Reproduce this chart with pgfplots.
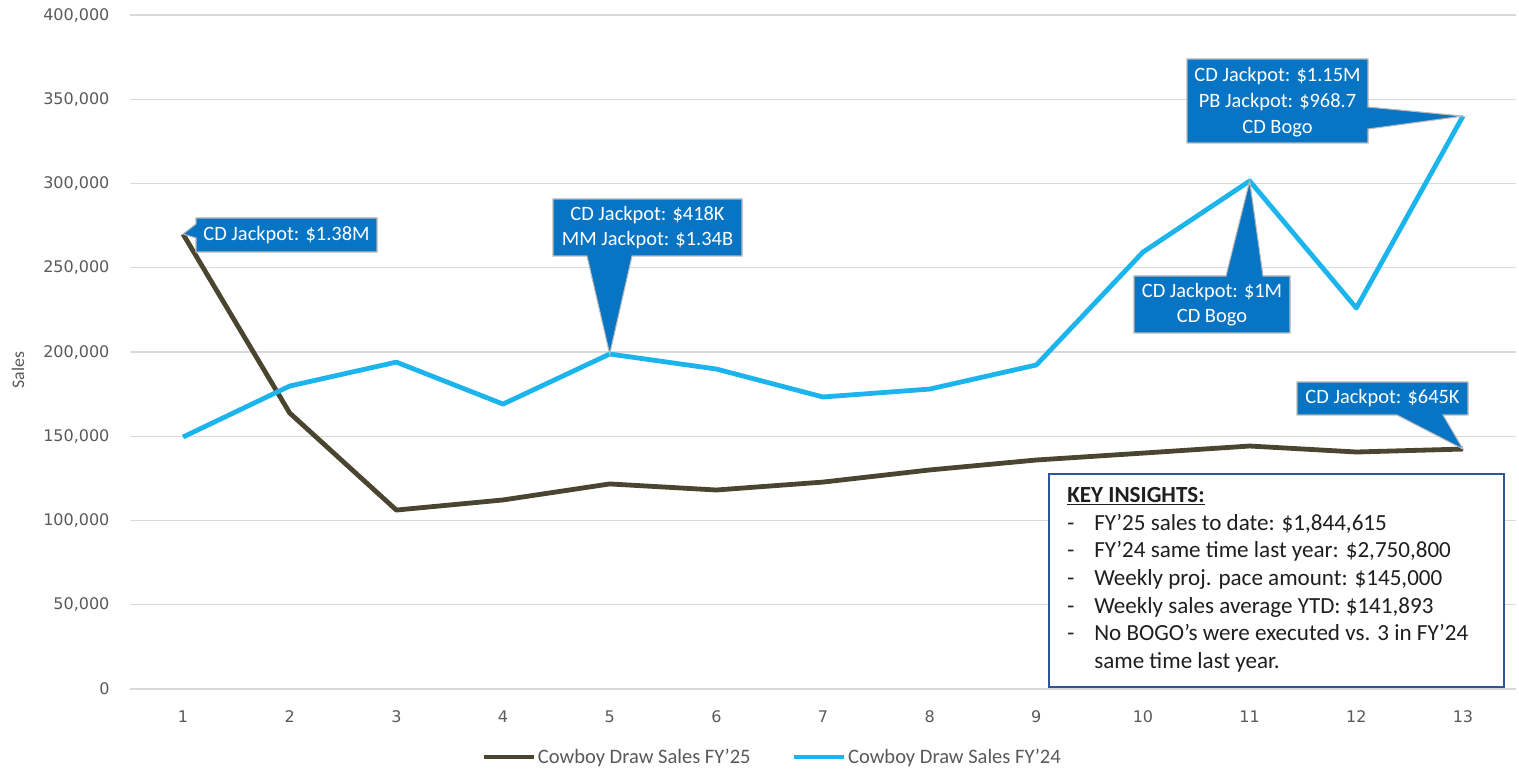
\documentclass[border=0pt]{standalone}
\usepackage{pgfplots}
\pgfplotsset{compat=1.18}
\usepackage{fontspec}
\setmainfont{Carlito}
\newfontfamily\tickfont{DejaVu Sans}

\definecolor{fyA}{HTML}{4A4530}
\definecolor{fyB}{HTML}{1CB4EC}
\definecolor{callout}{HTML}{0874C4}
\definecolor{gridgray}{HTML}{D9D9D9}
\definecolor{txtgray}{HTML}{595959}
\definecolor{boxblue}{HTML}{2F5597}

\tikzset{
  co/.style={fill=callout, draw=gray!55, line width=0.8pt, line join=miter},
  cotext/.style={text=white, align=center, inner sep=0pt,
    font=\fontsize{15.3}{18.5}\selectfont},
  ins/.style={anchor=base west, inner sep=0pt, text=black!88, font=\fontsize{17.3}{20}\selectfont},
}

\begin{document}
\begin{tikzpicture}
\path[use as bounding box] (-97.275pt,-59.25pt) rectangle (1041.975pt,516.75pt);
\begin{axis}[
    at={(0,0)}, anchor=south west,
    scale only axis,
    width=1039.95pt, height=505.5pt,
    xmin=0.5, xmax=13.5,
    ymin=0, ymax=400000,
    xtick={1,...,13},
    xticklabels={1,2,3,4,5,6,7,8,9,10,11,12,13},
    ytick={0,50000,...,400000},
    yticklabels={0,{50,000},{100,000},{150,000},{200,000},{250,000},{300,000},{350,000},{400,000}},
    axis line style={draw=none},
    major tick length=0pt,
    ymajorgrids,
    grid style={gridgray, line width=1.1pt},
    ticklabel style={font=\tickfont\fontsize{12}{13}\selectfont, text=txtgray, inner sep=0pt},
    xticklabel style={yshift=-16pt},
    yticklabel style={xshift=-15pt},
    legend style={at={(axis description cs:0.4632,-0.1009)}, anchor=center,
      draw=none, fill=none, font=\fontsize{15.4}{17}\selectfont, text=txtgray,
      nodes={inner sep=1.5pt},
      /tikz/every even column/.append style={column sep=29pt}},
    legend columns=2,
    legend cell align=left,
    legend image code/.code={\draw[#1, line width=3.6pt] (0,0) -- (37.5pt,0);},
    clip=false,
  ]
  \addplot[fyA, line width=3.6pt, line join=round] coordinates {
    (1,270000) (2,163800) (3,106200) (4,112200) (5,121700) (6,118100) (7,122800)
    (8,130000) (9,135900) (10,140000) (11,144200) (12,140650) (13,142400)};
  \addplot[fyB, line width=3.6pt, line join=round] coordinates {
    (1,149550) (2,179800) (3,194000) (4,169100) (5,198800) (6,189900) (7,173300)
    (8,178000) (9,192300) (10,259300) (11,301500) (12,226100) (13,340000)};
  \legend{Cowboy Draw Sales FY'25, Cowboy Draw Sales FY'24}
  \coordinate (p1) at (axis cs:1,270000);
  \coordinate (p5) at (axis cs:5,198800);
  \coordinate (p11) at (axis cs:11,301500);
  \coordinate (p13) at (axis cs:13,340000);
  \coordinate (q13) at (axis cs:13,142400);
\end{axis}

\begin{scope}[x=0.75pt, y=-0.75pt, shift={(-97.275pt,516.75pt)}]
  % y axis title
  \node[rotate=90, text=txtgray, inner sep=0pt, font=\fontsize{13.3}{15}\selectfont] at (18,370) {Sales};

  % callouts
  \path[co] (196,218) -- (377,218) -- (377,252) -- (196,252) -- (196,238) -- (p1) -- (196,224) -- cycle;
  \node[cotext] at (286.5,235) {CD Jackpot: \$1.38M};

  \path[co] (553,199) -- (742,199) -- (742,256) -- (632,256) -- (p5) -- (587,256) -- (553,256) -- cycle;
  \node[cotext] at (647.5,227.5) {CD Jackpot: \$418K\\MM Jackpot: \$1.34B};

  \path[co] (1187,59) -- (1368,59) -- (1368,107) -- (p13) -- (1368,129) -- (1368,143) -- (1187,143) -- cycle;
  \node[cotext, font=\fontsize{15.3}{19.5}\selectfont] at (1277.5,102) {CD Jackpot: \$1.15M\\PB Jackpot: \$968.7\\CD Bogo};

  \path[co] (1134,276) -- (1226,276) -- (p11) -- (1263,276) -- (1290,276) -- (1290,333) -- (1134,333) -- cycle;
  \node[cotext] at (1212,305) {CD Jackpot: \$1M\\CD Bogo};

  \path[co] (1297,382) -- (1468,382) -- (1468,415) -- (1443,415) -- (q13) -- (1397,415) -- (1297,415) -- cycle;
  \node[cotext] at (1382.5,398.5) {CD Jackpot: \$645K};

  % key insights box
  \draw[boxblue, line width=1.8pt, fill=white] (1049,474) rectangle (1504,687);
  \node[ins] at (1067,502) {\underline{\textbf{KEY INSIGHTS:}}};
  \foreach \y/\t in {530/{FY’25 sales to date: \$1,844,615},
                     557.5/{FY’24 same time last year: \$2,750,800},
                     585/{Weekly proj. pace amount: \$145,000},
                     613/{Weekly sales average YTD: \$141,893},
                     640.5/{No BOGO’s were executed vs. 3 in FY’24}} {
    \node[ins] at (1067,\y) {-};
    \node[ins] at (1094,\y) {\t};
  }
  \node[ins] at (1094,668) {same time last year.};
\end{scope}
\end{tikzpicture}
\end{document}
